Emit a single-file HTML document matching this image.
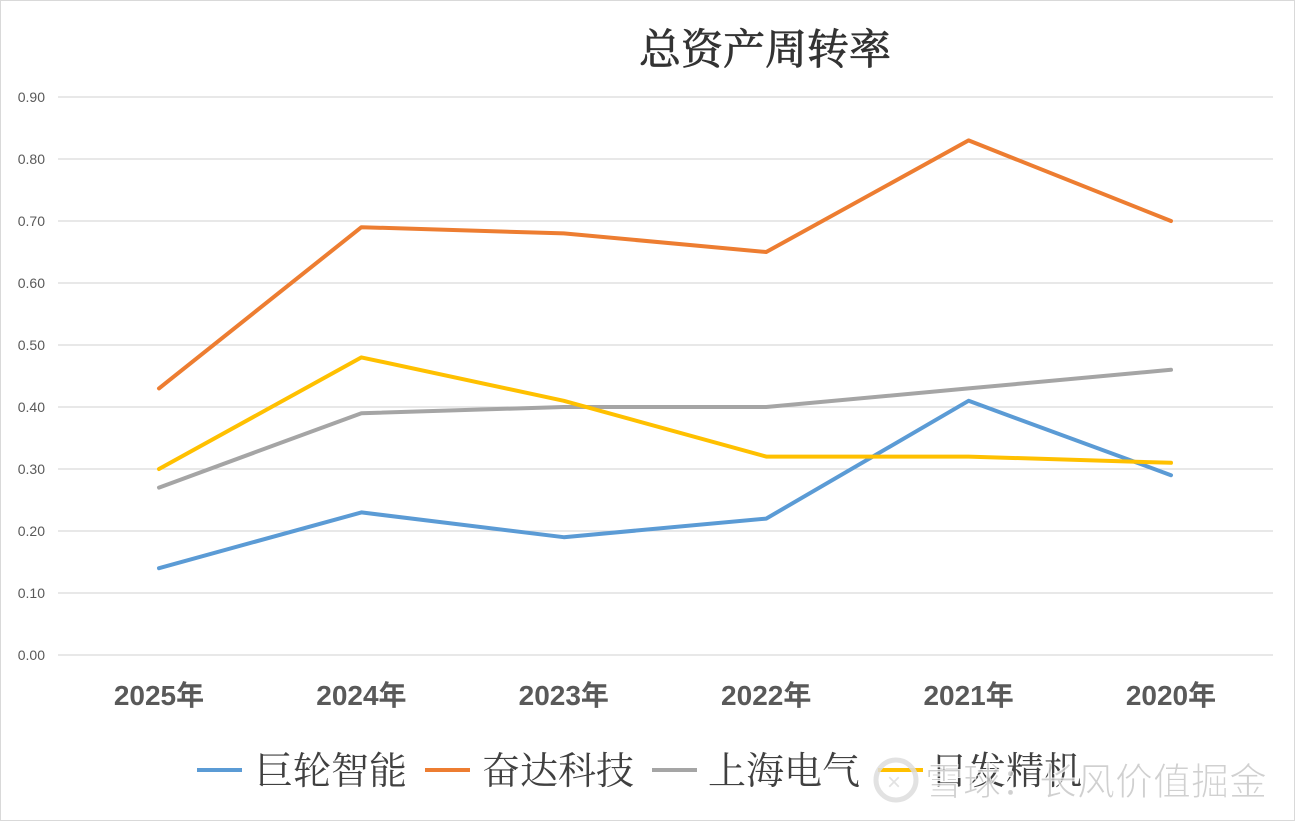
<!DOCTYPE html>
<html><head><meta charset="utf-8"><style>
body{margin:0;background:#fff;width:1295px;height:821px;overflow:hidden}
svg{display:block}
</style></head><body>
<svg id="chart" width="1295" height="821" xmlns="http://www.w3.org/2000/svg">
<rect x="0.5" y="0.5" width="1294" height="820" fill="#fff" stroke="#d9d9d9"/>
<text x="765" y="64" text-anchor="middle" font-family="'Liberation Serif','Noto Serif CJK SC',serif" font-size="42" fill="#333" stroke="#333" stroke-width="0.8">总资产周转率</text>
<g id="grid"></g><g id="series"></g>
<g font-family="'Liberation Serif','Noto Serif CJK SC',serif" font-size="38" fill="#404040">
<line x1="197" y1="770" x2="242" y2="770" stroke="#5b9bd5" stroke-width="4"/>
<text x="255" y="784">巨轮智能</text>
<line x1="425" y1="770" x2="470" y2="770" stroke="#ed7d31" stroke-width="4"/>
<text x="482" y="784">奋达科技</text>
<line x1="652" y1="770" x2="697" y2="770" stroke="#a5a5a5" stroke-width="4"/>
<text x="708" y="784">上海电气</text>
<line x1="878" y1="770" x2="923" y2="770" stroke="#ffc000" stroke-width="4"/>
<text x="930" y="784">日发精机</text>
</g>
<g opacity="0.85">
<circle cx="896" cy="780" r="20" fill="none" stroke="#ddd" stroke-width="5"/>
<text x="887" y="790" font-family="'Liberation Sans',sans-serif" font-size="24" fill="#ddd">×</text>
<text x="925" y="795" font-family="'Liberation Sans','Noto Sans CJK SC',sans-serif" font-size="38" fill="#c8c8c8" stroke="#fff" stroke-width="1">雪球：长风价值掘金</text>
</g>
</svg>
<script>
const categories=["2025年","2024年","2023年","2022年","2021年","2020年"];
const yTicks=[0,0.1,0.2,0.3,0.4,0.5,0.6,0.7,0.8,0.9];
const julun=[0.14,0.23,0.19,0.22,0.41,0.29];
const fenda=[0.43,0.69,0.68,0.65,0.83,0.70];
const shanghai=[0.27,0.39,0.40,0.40,0.43,0.46];
const rifa=[0.30,0.48,0.41,0.32,0.32,0.31];
const NS="http://www.w3.org/2000/svg";
const X=i=>159+i*202.4;
const Y=v=>655-v*620;
const grid=document.getElementById('grid');
function mk(t,a,p){const e=document.createElementNS(NS,t);for(const k in a)e.setAttribute(k,a[k]);p.appendChild(e);return e;}
yTicks.forEach(v=>{
  const l=mk('line',{x1:58,x2:1273,y1:Y(v),y2:Y(v),stroke:'#d9d9d9','stroke-width':1.3},grid);
  
  
  const t=mk('text',{x:45,y:Y(v)+5,'text-anchor':'end','font-family':'Liberation Sans,sans-serif','font-size':14,fill:'#595959'},grid);
  t.textContent=v.toFixed(2);
  
  
});
categories.forEach((c,i)=>{
  const t=mk('text',{x:X(i),y:705,'text-anchor':'middle','font-family':"'Liberation Sans','Noto Sans CJK SC',sans-serif",'font-size':28,'font-weight':'bold',fill:'#595959'},grid);
  t.textContent=c;
  
  
});
const sg=document.getElementById('series');
[[shanghai,'#a5a5a5','line-shanghai'],[julun,'#5b9bd5','line-julun'],[fenda,'#ed7d31','line-fenda'],[rifa,'#ffc000','line-rifa']].forEach(([d,c,n])=>{
  const p=mk('polyline',{points:d.map((v,i)=>X(i)+','+Y(v)).join(' '),fill:'none',stroke:c,'stroke-width':4,'stroke-linejoin':'round','stroke-linecap':'round'},sg);
  
  
});
</script>
</body></html>
